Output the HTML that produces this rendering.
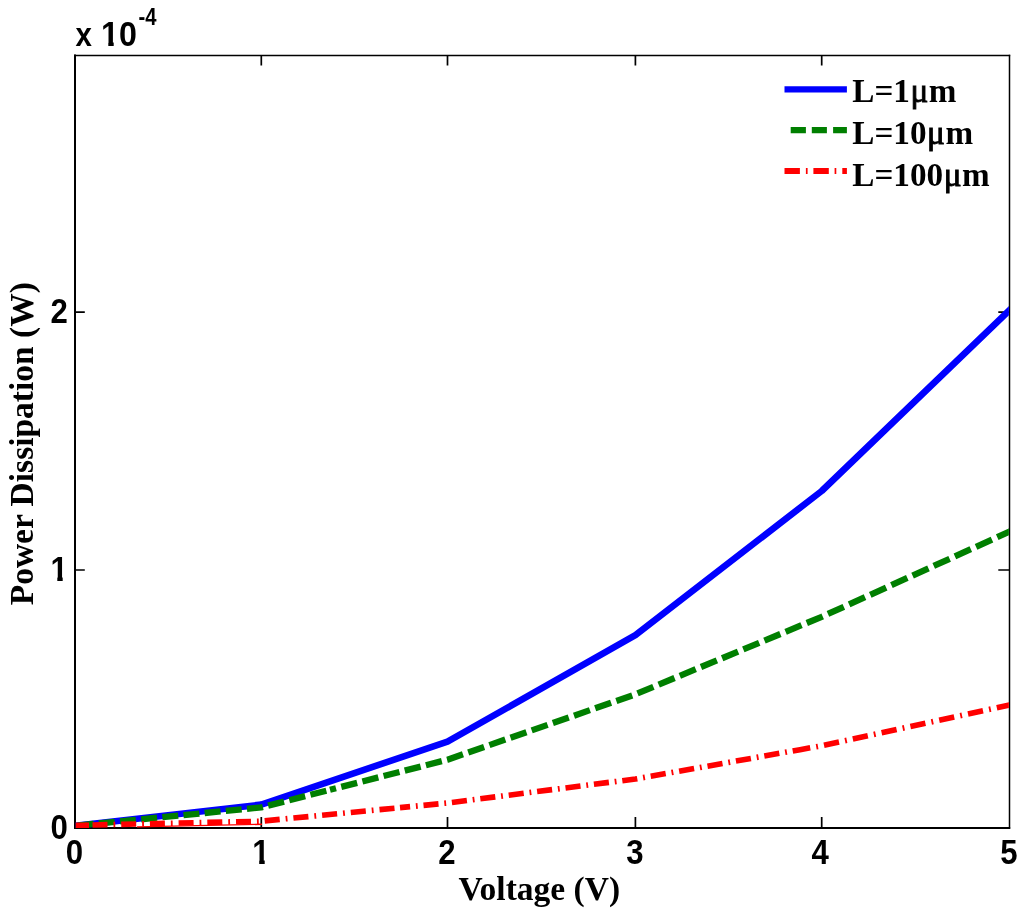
<!DOCTYPE html>
<html lang="en">
<head>
<meta charset="utf-8">
<title>Power Dissipation vs Voltage</title>
<style>
html,body{margin:0;padding:0;background:#fff;}
body{width:1024px;height:914px;overflow:hidden;}
svg{display:block;}
.sans{font-family:"Liberation Sans",Arial,Helvetica,sans-serif;font-weight:bold;font-size:33.5px;fill:#000;}
.serif{font-family:"Liberation Serif","Times New Roman",Times,serif;font-weight:bold;font-size:33.5px;fill:#000;}
</style>
</head>
<body>
<svg width="1024" height="914" viewBox="0 0 1024 914">
<rect x="0" y="0" width="1024" height="914" fill="#ffffff"/>
<defs>
<clipPath id="c1x"><rect x="245" y="830" width="35" height="30.1"/><rect x="259.2" y="860" width="5.5" height="10"/></clipPath>
<clipPath id="c1y"><rect x="44" y="548" width="28" height="28.9"/><rect x="57.3" y="576.8" width="5.4" height="11"/></clipPath>
<clipPath id="c1e"><rect x="98" y="10" width="42" height="32.1"/><rect x="108.3" y="42" width="5.4" height="10"/><rect x="119.5" y="42" width="21" height="10"/></clipPath>
<clipPath id="ax"><rect x="75.7" y="56.1" width="933.2" height="771.9"/></clipPath></defs>
<g stroke="#000" fill="none">
<path d="M75 54.6 V828.8" stroke-width="2"/>
<path d="M74 55.4 H1010.2" stroke-width="1.5"/>
<path d="M74 828.0 H1010.2" stroke-width="1.8"/>
<path d="M1009.5 54.7 V828.8" stroke-width="1.5"/>
</g>
<path d="M261.30 828.00 v-11.10 M261.30 55.40 v10.00 M447.50 828.00 v-11.10 M447.50 55.40 v10.00 M635.40 828.00 v-11.10 M635.40 55.40 v10.00 M821.70 828.00 v-11.10 M821.70 55.40 v10.00 M75.00 570.00 h9.80 M1009.50 570.00 h-11.20 M75.00 312.10 h9.80 M1009.50 312.10 h-11.20" stroke="#000" stroke-width="1.7" fill="none"/>
<g clip-path="url(#ax)" fill="none" stroke-width="6.0" stroke-linejoin="round">
<path d="M65.00 826.94 L75.00 825.80 L261.30 804.60 L447.50 741.60 L635.40 635.20 L821.70 491.00 L1009.50 310.20 L1019.50 300.57" stroke="#0000ff" stroke-width="6.6"/>
<path d="M65.00 826.79 L72.42 826.05 M77.68 825.54 L93.58 823.96 M98.84 823.45 L114.74 821.88 M120.00 821.36 L135.90 819.79 M141.16 819.27 L157.06 817.70 M162.32 817.18 L178.22 815.61 M183.48 815.09 L199.38 813.52 M204.64 813.00 L220.54 811.43 M225.80 810.91 L241.70 809.34 M246.96 808.82 L261.30 807.40 L262.86 807.00 M268.12 805.65 L284.02 801.58 M289.28 800.23 L305.18 796.16 M310.44 794.81 L326.34 790.74 M330.00 789.80 L336.00 788.26 M341.26 786.92 L357.16 782.84 M362.42 781.50 L378.32 777.42 M383.58 776.07 L399.48 772.00 M404.74 770.65 L420.64 766.58 M425.90 765.23 L441.80 761.16 M447.06 759.81 L447.50 759.70 L462.96 754.32 M468.22 752.49 L484.12 746.95 M489.38 745.12 L505.28 739.59 M510.54 737.76 L526.44 732.22 M531.70 730.39 L547.60 724.86 M552.86 723.03 L568.76 717.49 M574.02 715.66 L589.92 710.13 M595.18 708.30 L611.08 702.76 M616.34 700.93 L632.24 695.40 M637.50 693.43 L653.40 686.81 M658.66 684.62 L674.56 678.01 M679.82 675.82 L695.72 669.21 M700.98 667.02 L716.88 660.40 M722.14 658.22 L738.04 651.60 M743.30 649.41 L759.20 642.80 M764.46 640.61 L780.36 634.00 M785.62 631.81 L801.52 625.19 M806.78 623.01 L821.70 616.80 L822.68 616.36 M827.94 613.97 L843.84 606.76 M849.10 604.37 L865.00 597.16 M870.26 594.77 L886.16 587.56 M891.42 585.17 L907.32 577.96 M912.58 575.57 L928.48 568.36 M933.74 565.97 L949.64 558.76 M954.90 556.37 L970.80 549.16 M976.06 546.77 L991.96 539.56 M997.22 537.17 L1009.50 531.60 L1013.12 529.96 M1018.38 527.57 L1019.50 527.06" stroke="#007f00" stroke-width="6.3"/>
<path d="M65.00 825.63 L75.00 825.40 L78.80 825.31 M84.75 825.18 L86.55 825.14 M92.50 825.01 L107.50 824.67 M113.45 824.53 L115.25 824.49 M121.20 824.36 L136.20 824.02 M142.15 823.89 L143.95 823.85 M149.90 823.71 L164.90 823.37 M170.85 823.24 L172.65 823.20 M178.60 823.06 L193.60 822.73 M199.55 822.59 L201.35 822.55 M207.30 822.42 L222.30 822.08 M228.25 821.95 L230.05 821.90 M236.00 821.77 L251.00 821.43 M256.95 821.30 L258.75 821.26 M264.70 820.87 L279.70 819.40 M285.65 818.82 L287.45 818.64 M293.40 818.06 L308.40 816.60 M314.35 816.01 L316.15 815.84 M322.10 815.26 L337.10 813.79 M343.05 813.21 L344.85 813.03 M350.80 812.45 L365.80 810.99 M371.75 810.40 L373.55 810.23 M379.50 809.65 L394.50 808.18 M400.00 807.64 L410.10 806.66 M415.90 806.09 L417.70 805.91 M423.50 805.35 L438.50 803.88 M444.30 803.31 L446.10 803.14 M451.90 802.44 L466.90 800.52 M472.70 799.78 L474.50 799.55 M480.30 798.81 L495.30 796.89 M501.10 796.15 L502.90 795.92 M508.70 795.18 L523.70 793.27 M529.50 792.53 L531.30 792.30 M537.10 791.56 L552.10 789.64 M557.90 788.90 L559.70 788.67 M565.50 787.93 L580.50 786.01 M586.30 785.27 L588.10 785.04 M593.90 784.30 L608.90 782.38 M614.70 781.64 L616.50 781.41 M622.30 780.67 L635.40 779.00 L637.30 778.66 M643.10 777.63 L644.90 777.31 M650.70 776.27 L665.70 773.60 M671.50 772.57 L673.30 772.25 M679.10 771.21 L694.10 768.54 M699.90 767.51 L701.70 767.18 M707.50 766.15 L722.50 763.48 M728.30 762.44 L730.10 762.12 M735.90 761.09 L750.90 758.42 M756.70 757.38 L758.50 757.06 M764.30 756.03 L779.30 753.36 M785.10 752.32 L786.90 752.00 M792.70 750.97 L800.00 749.67 M800.00 749.67 L810.20 747.85 M816.20 746.78 L818.00 746.46 M824.00 745.30 L839.00 742.04 M845.00 740.74 L846.80 740.35 M852.80 739.04 L867.80 735.78 M873.80 734.48 L875.60 734.09 M881.60 732.79 L896.60 729.53 M902.60 728.22 L904.40 727.83 M910.40 726.53 L925.40 723.27 M931.40 721.97 L933.20 721.58 M939.20 720.27 L954.20 717.01 M960.20 715.71 L962.00 715.32 M968.00 714.02 L983.00 710.76 M989.00 709.45 L990.80 709.06 M996.80 707.76 L1009.50 705.00 L1011.80 704.50 M1017.80 703.20 L1019.50 702.83 M74 825.4 H89" stroke="#ff0000" stroke-width="5.6"/>
<path d="M137 826.9 L262 824.3" stroke="#ff0000" stroke-width="1.4"/>
</g>
<g class="sans">
<text transform="translate(74.5 863.5) scale(0.93 1.055)" text-anchor="middle">0</text><g clip-path="url(#c1x)"><text transform="translate(260.8 863.5) scale(0.93 1.055)" text-anchor="middle">1</text></g><text transform="translate(447.0 863.5) scale(0.93 1.055)" text-anchor="middle">2</text><text transform="translate(634.9 863.5) scale(0.93 1.055)" text-anchor="middle">3</text><text transform="translate(820.2 863.5) scale(0.93 1.055)" text-anchor="middle">4</text><text transform="translate(1009.0 863.5) scale(0.93 1.055)" text-anchor="middle">5</text>
<text transform="translate(67.9 839.1) scale(0.93 1.055)" text-anchor="end">0</text><g clip-path="url(#c1y)"><text transform="translate(67.9 581.1) scale(0.93 1.055)" text-anchor="end">1</text></g><text transform="translate(67.9 323.2) scale(0.93 1.055)" text-anchor="end">2</text>
<text transform="translate(75.5 45.8) scale(0.88 1)">x</text>
<g clip-path="url(#c1e)"><text transform="translate(101 45.8) scale(0.96 1.02)">10</text></g>
<text transform="translate(138.4 24.7) scale(0.88 1)" style="font-size:23px">-4</text>
</g>
<g fill="none" stroke-width="6.2">
<path d="M784.5 89.4 H846.9" stroke="#0000ff"/>
<path d="M790.7 130.1 h15.2 M811.8 130.1 h15.1 M833.1 130.1 H846.9" stroke="#007f00"/>
<path d="M784.5 171 h15.4 M805.9 171 h1.7 M813.4 171 h15.4 M834.6 171 h1.7 M842.3 171 H846.9" stroke="#ff0000"/>
</g>
<g class="serif">
<text x="852.3" y="101.6" style="font-size:33.2px">L=1<tspan dx="0.5" style="font-weight:normal;stroke:#000;stroke-width:0.9px">μ</tspan><tspan dx="0.6">m</tspan></text>
<text x="852.3" y="143.6" style="font-size:33.2px">L=10<tspan dx="0.5" style="font-weight:normal;stroke:#000;stroke-width:0.9px">μ</tspan><tspan dx="0.6">m</tspan></text>
<text x="852.3" y="185.9" style="font-size:33.2px">L=100<tspan dx="0.5" style="font-weight:normal;stroke:#000;stroke-width:0.9px">μ</tspan><tspan dx="0.6">m</tspan></text>
<text x="539.3" y="899.8" text-anchor="middle">Voltage (V)</text>
<text transform="translate(32.8 443.7) rotate(-90)" text-anchor="middle">Power Dissipation (W)</text>
</g>
</svg>
</body>
</html>
